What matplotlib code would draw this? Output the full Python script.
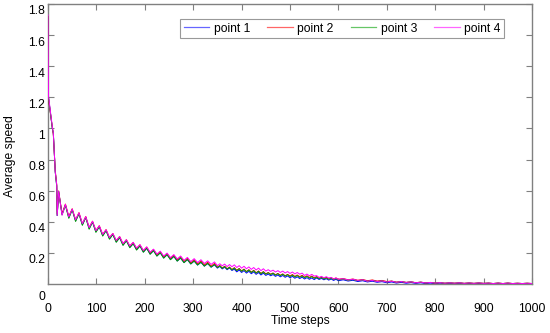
import matplotlib
matplotlib.use("Agg")
import matplotlib.pyplot as plt
from matplotlib.transforms import ScaledTranslation

plt.rcParams['font.family'] = ['Liberation Sans', 'DejaVu Sans']

# ---- data ----
time_steps = [0, 1, 9, 11, 15, 18, 19,
    22, 29, 36, 43, 50, 57, 64, 71, 78, 85, 92, 99, 106, 113, 120, 127, 134, 141, 148, 155,
    162, 169, 176, 183, 190, 197, 204, 211, 218, 225, 232, 239, 246, 253, 260, 267, 274, 281,
    288, 295, 302, 309, 316, 323, 330, 337, 344,
    350, 355, 360, 365, 370, 375, 380, 385, 390, 395, 400, 405, 410, 415, 420, 425, 430, 435,
    440, 445, 450, 455, 460, 465, 470, 475, 480, 485, 490, 495, 500, 505, 510, 515, 520, 525,
    530, 535, 540, 545, 550, 555, 560, 565, 570, 575, 580, 585, 590, 595, 600,
    610, 620, 630, 640, 650, 660, 670, 680, 690, 700, 710, 720, 730, 740, 750, 760, 770, 780,
    790, 800, 810, 820, 830, 840, 850, 860, 870, 880, 890, 900, 910, 920, 930, 940, 950, 960,
    970, 980, 990, 1000]

point1 = [1.71, 1.20, 1.00, 0.97, 0.72, 0.63, 0.44,
    0.592, 0.448, 0.508, 0.427, 0.478, 0.406, 0.453, 0.381, 0.428, 0.356, 0.398, 0.336, 0.368, 0.311,
    0.343, 0.291, 0.318, 0.271, 0.298, 0.251, 0.278, 0.236, 0.259, 0.221, 0.244, 0.206, 0.229, 0.193,
    0.214, 0.181, 0.200, 0.168, 0.188, 0.158, 0.177, 0.148, 0.166, 0.138, 0.156, 0.129, 0.147, 0.122,
    0.139, 0.115, 0.131, 0.108, 0.123,
    0.102, 0.113, 0.097, 0.108, 0.092, 0.103, 0.087, 0.095, 0.078, 0.090, 0.074, 0.086, 0.070, 0.082,
    0.066, 0.078, 0.062, 0.074, 0.058, 0.070, 0.055, 0.064, 0.053, 0.061, 0.049, 0.058, 0.046, 0.055,
    0.043, 0.052, 0.040, 0.049, 0.037, 0.046, 0.035, 0.044, 0.032, 0.041, 0.030, 0.039, 0.028, 0.039,
    0.029, 0.036, 0.027, 0.034, 0.025, 0.032, 0.023, 0.030, 0.021,
    0.027, 0.019, 0.024, 0.016, 0.021, 0.013, 0.018, 0.011, 0.015, 0.008, 0.013, 0.006, 0.011, 0.005,
    0.009, 0.004, 0.008, 0.003, 0.006, 0.002, 0.006, 0.002, 0.005, 0.002, 0.005, 0.002, 0.004, 0.002,
    0.004, 0.002, 0.004, 0.002, 0.004, 0.002, 0.004, 0.002, 0.003, 0.002, 0.003, 0.002]

point2 = [1.72, 1.19, 1.01, 0.96, 0.73, 0.64, 0.45,
    0.598, 0.452, 0.514, 0.433, 0.484, 0.412, 0.459, 0.388, 0.434, 0.363, 0.404, 0.343, 0.375, 0.318,
    0.350, 0.298, 0.325, 0.278, 0.305, 0.258, 0.285, 0.243, 0.267, 0.228, 0.252, 0.213, 0.237, 0.200,
    0.222, 0.188, 0.208, 0.175, 0.196, 0.165, 0.185, 0.155, 0.175, 0.145, 0.165, 0.136, 0.156, 0.129,
    0.148, 0.122, 0.140, 0.115, 0.132,
    0.108, 0.119, 0.103, 0.114, 0.098, 0.109, 0.093, 0.105, 0.088, 0.100, 0.084, 0.096, 0.080, 0.092,
    0.076, 0.088, 0.072, 0.084, 0.068, 0.080, 0.065, 0.074, 0.063, 0.071, 0.059, 0.068, 0.056, 0.065,
    0.053, 0.062, 0.052, 0.061, 0.049, 0.058, 0.047, 0.056, 0.044, 0.053, 0.042, 0.051, 0.040, 0.048,
    0.038, 0.045, 0.036, 0.043, 0.034, 0.041, 0.032, 0.039, 0.030,
    0.035, 0.027, 0.032, 0.024, 0.029, 0.021, 0.026, 0.019, 0.023, 0.016, 0.019, 0.012, 0.016, 0.010,
    0.014, 0.008, 0.012, 0.007, 0.010, 0.006, 0.009, 0.005, 0.008, 0.005, 0.008, 0.004, 0.007, 0.004,
    0.007, 0.004, 0.006, 0.003, 0.006, 0.003, 0.006, 0.003, 0.005, 0.003, 0.005, 0.003]

point3 = [1.72, 1.20, 1.00, 0.97, 0.72, 0.63, 0.44,
    0.595, 0.445, 0.505, 0.422, 0.478, 0.402, 0.452, 0.377, 0.428, 0.352, 0.398, 0.332, 0.368, 0.308,
    0.343, 0.288, 0.318, 0.268, 0.298, 0.248, 0.278, 0.233, 0.260, 0.218, 0.245, 0.204, 0.230, 0.191,
    0.215, 0.179, 0.201, 0.166, 0.189, 0.156, 0.178, 0.147, 0.168, 0.137, 0.158, 0.129, 0.149, 0.122,
    0.141, 0.115, 0.133, 0.109, 0.125,
    0.106, 0.117, 0.101, 0.112, 0.096, 0.107, 0.091, 0.103, 0.086, 0.098, 0.082, 0.094, 0.078, 0.090,
    0.074, 0.086, 0.070, 0.082, 0.066, 0.078, 0.063, 0.072, 0.061, 0.069, 0.057, 0.066, 0.054, 0.063,
    0.051, 0.060, 0.048, 0.057, 0.045, 0.054, 0.043, 0.052, 0.040, 0.049, 0.038, 0.047, 0.036, 0.044,
    0.034, 0.041, 0.032, 0.039, 0.030, 0.037, 0.028, 0.035, 0.026,
    0.032, 0.024, 0.029, 0.021, 0.026, 0.018, 0.023, 0.016, 0.020, 0.013, 0.018, 0.011, 0.016, 0.010,
    0.014, 0.008, 0.012, 0.007, 0.010, 0.006, 0.009, 0.005, 0.008, 0.005, 0.008, 0.004, 0.007, 0.004,
    0.007, 0.004, 0.006, 0.003, 0.006, 0.003, 0.006, 0.003, 0.005, 0.003, 0.005, 0.003]

point4 = [1.73, 1.21, 1.01, 0.97, 0.72, 0.64, 0.44,
    0.597, 0.442, 0.512, 0.432, 0.482, 0.413, 0.458, 0.388, 0.433, 0.363, 0.403, 0.343, 0.374, 0.319,
    0.349, 0.299, 0.325, 0.280, 0.305, 0.260, 0.285, 0.245, 0.268, 0.231, 0.253, 0.216, 0.239, 0.204,
    0.224, 0.192, 0.211, 0.180, 0.199, 0.170, 0.189, 0.161, 0.180, 0.152, 0.171, 0.144, 0.163, 0.138,
    0.156, 0.132, 0.149, 0.126, 0.142,
    0.118, 0.130, 0.117, 0.128, 0.112, 0.125, 0.111, 0.123, 0.106, 0.118, 0.102, 0.114, 0.098, 0.110,
    0.094, 0.106, 0.090, 0.102, 0.086, 0.098, 0.083, 0.092, 0.081, 0.089, 0.077, 0.086, 0.074, 0.083,
    0.071, 0.080, 0.068, 0.077, 0.065, 0.074, 0.063, 0.070, 0.055, 0.064, 0.053, 0.062, 0.051, 0.054,
    0.042, 0.049, 0.040, 0.047, 0.038, 0.042, 0.032, 0.039, 0.030,
    0.034, 0.026, 0.031, 0.023, 0.027, 0.018, 0.023, 0.016, 0.020, 0.013, 0.018, 0.011, 0.016, 0.010,
    0.014, 0.008, 0.012, 0.007, 0.010, 0.006, 0.009, 0.005, 0.008, 0.005, 0.008, 0.004, 0.007, 0.004,
    0.007, 0.004, 0.006, 0.003, 0.006, 0.003, 0.006, 0.003, 0.005, 0.003, 0.005, 0.003]

series_labels = ["point 1", "point 2", "point 3", "point 4"]
series_colors = ["#0000ff", "#ff0000", "#00a000", "#ff00ff"]
x_ticks = [0, 100, 200, 300, 400, 500, 600, 700, 800, 900, 1000]
y_ticks = [0.2, 0.4, 0.6, 0.8, 1.0, 1.2, 1.4, 1.6, 1.8]
y_tick_labels = ["0.2", "0.4", "0.6", "0.8", "1", "1.2", "1.4", "1.6", "1.8"]

for s in (point1, point2, point3, point4):
    assert len(s) == len(time_steps), (len(s), len(time_steps))

# ---- figure ----
W, H, DPI = 550, 333, 100
FS = 8.7
fig = plt.figure(figsize=(W / DPI, H / DPI), dpi=DPI)
L, R, T, B = 48, 532, 4, 284
ax = fig.add_axes([L / W, (H - B) / H, (R - L) / W, (B - T) / H])

for ys, lab, col in zip((point1, point2, point3, point4), series_labels, series_colors):
    ax.plot(time_steps, ys, color=col, lw=0.7, label=lab, zorder=3)

ax.set_xlim(0, 1000)
ax.set_ylim(0, 1.8)
ax.set_xticks(x_ticks)
ax.set_xticklabels([str(v) for v in x_ticks])
ax.set_yticks(y_ticks)
ax.set_yticklabels(y_tick_labels)

spine_col = "#808080"
for sp in ax.spines.values():
    sp.set_color(spine_col)
    sp.set_linewidth(1.0)
ax.tick_params(direction="in", length=4, width=0.8, color=spine_col,
               top=True, right=True, labelsize=FS, labelcolor="black")
ax.tick_params(axis="x", pad=13.5)
ax.tick_params(axis="y", pad=2)

off = ScaledTranslation(0, -6 / DPI, fig.dpi_scale_trans)
for lbl in ax.get_yticklabels():
    lbl.set_transform(lbl.get_transform() + off)

# MATLAB-style corner zero for the y axis
ax.text((45 - L) / (R - L), (B - 297) / (B - T), "0", transform=ax.transAxes,
        ha="right", va="center", fontsize=FS)

ax.set_xlabel("Time steps", fontsize=FS)
ax.xaxis.set_label_coords((300 - L) / (R - L), (B - 315) / (B - T))
ax.set_ylabel("Average speed", fontsize=FS)
ax.yaxis.set_label_coords((16 - L) / (R - L), (B - 156) / (B - T))

leg = ax.legend(loc="upper right", bbox_to_anchor=((504 - L) / (R - L), (B - 19) / (B - T)),
                ncol=4, frameon=True, fancybox=False, fontsize=FS, borderaxespad=0,
                handlelength=2.1, handletextpad=0.35, columnspacing=1.45, borderpad=0.3)
leg.get_frame().set_edgecolor(spine_col)
leg.get_frame().set_linewidth(0.8)
for ln, col in zip(leg.get_lines(), series_colors):
    ln.set_color(col)
    ln.set_linewidth(0.9)
    ln.set_alpha(0.6)

fig.savefig("out.png", dpi=DPI)
